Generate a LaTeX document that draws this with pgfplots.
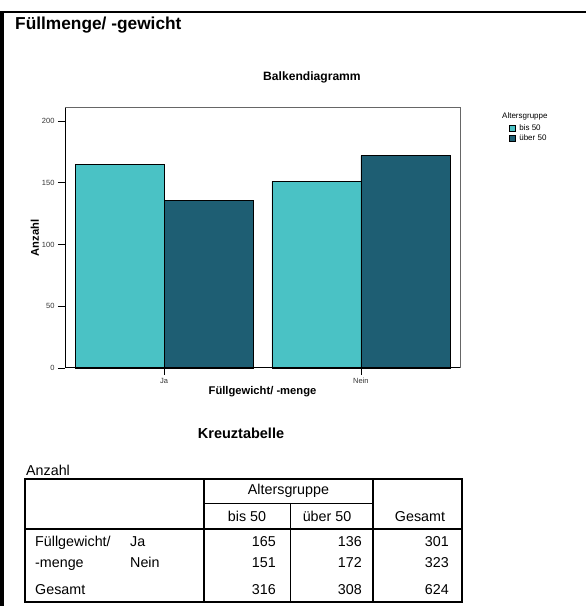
\documentclass[border=0pt]{standalone}
\usepackage{fontspec}
\setmainfont{Liberation Sans}
\usepackage{pgfplots}
\pgfplotsset{compat=1.18}
\definecolor{lightteal}{RGB}{74,194,197}
\definecolor{darkteal}{RGB}{30,94,115}
\begin{document}
\begin{tikzpicture}
\useasboundingbox (0pt,0pt) rectangle (586pt,606pt);
\fill[white] (0pt,0pt) rectangle (586pt,606pt);
% frame
\draw[black, line width=2pt] (0pt,594pt) -- (586pt,594pt);
\draw[black, line width=3.5pt] (1.75pt,0pt) -- (1.75pt,595pt);
\node[anchor=base west, inner sep=0pt, font=\fontsize{17.3}{19}\selectfont\bfseries] at (15pt,576pt) {Füllmenge/ -gewicht};
\node[anchor=base, inner sep=0pt, font=\fontsize{12.1}{13}\selectfont\bfseries] at (312pt,525pt) {Balkendiagramm};

\begin{axis}[
  at={(65pt,238pt)}, anchor=south west,
  scale only axis, width=395pt, height=260pt,
  xmin=-0.503, xmax=1.503, ymin=0, ymax=210.5,
  xtick={0,1}, xticklabels={Ja,Nein},
  ytick={0,50,100,150,200},
  tick align=outside, xtick pos=bottom, ytick pos=left,
  major tick length=7pt,
  tick style={black, line width=0.8pt},
  ticklabel style={font=\fontsize{7.5}{8}\selectfont, text=black!80},
  /pgf/number format/assume math mode=true,
  axis line style={draw=black!60, line width=1pt},
  xlabel={Füllgewicht/ -menge}, ylabel={Anzahl},
  xlabel style={font=\fontsize{11.2}{12}\selectfont\bfseries, at={(axis description cs:0.5,-0.092)}, anchor=center},
  ylabel style={font=\fontsize{11.2}{12}\selectfont\bfseries, at={(axis description cs:-0.076,0.5)}, anchor=center, rotate=0},
  legend style={draw=none, fill=none, at={(axis description cs:1.124,0.94)}, anchor=north west,
    inner sep=0pt, font=\fontsize{8}{8.5}\selectfont, nodes={inner sep=1pt}, row sep=1pt},
  legend cell align=left,
  clip=false,
]
\addplot[ybar, bar width=89pt, bar shift=-44.5pt, fill=lightteal, draw=black, line width=0.7pt,
  legend image code/.code={\draw[fill=lightteal, draw=black, line width=0.6pt] (0pt,-3pt) rectangle (6pt,3pt); \path (8.5pt,0pt);}]
  coordinates {(0,165) (1,151)};
\addlegendentry{bis 50}
\addplot[ybar, bar width=89pt, bar shift=44.5pt, fill=darkteal, draw=black, line width=0.7pt,
  legend image code/.code={\draw[fill=darkteal, draw=black, line width=0.6pt] (0pt,-3pt) rectangle (6pt,3pt); \path (8.5pt,0pt);}]
  coordinates {(0,136) (1,172)};
\addlegendentry{über 50}
\draw[black, line width=1pt] (rel axis cs:0,1) -- (rel axis cs:0,0) -- (rel axis cs:1,0);
\end{axis}
\node[anchor=base west, inner sep=0pt, font=\fontsize{8}{8.5}\selectfont] at (502pt,487.5pt) {Altersgruppe};

% table
\begin{scope}[x=1pt,y=1pt]
\node[anchor=base, inner sep=0pt, font=\fontsize{14.5}{16}\selectfont\bfseries] at (241,167) {Kreuztabelle};
\node[anchor=base west, inner sep=0pt, font=\fontsize{14.3}{16}\selectfont] at (26,130) {Anzahl};
\draw[line width=1.8pt] (25,127) rectangle (462,4);
\draw[line width=1.6pt] (204,127) -- (204,4);
\draw[line width=1.3pt] (373,127) -- (373,4);
\draw[line width=0.9pt] (290,103) -- (290,4);
\draw[line width=0.9pt] (204,103) -- (373,103);
\draw[line width=1.8pt] (25,77) -- (462,77);
\begin{scope}[every node/.style={inner sep=0pt, font=\fontsize{14.3}{16}\selectfont}]
\node[anchor=base] at (288.5,111) {Altersgruppe};
\node[anchor=base] at (247,84) {bis 50};
\node[anchor=base] at (327,84) {über 50};
\node[anchor=base] at (420,84) {Gesamt};
\node[anchor=base west] at (35,59) {Füllgewicht/};
\node[anchor=base west] at (35,38) {-menge};
\node[anchor=base west] at (35,12) {Gesamt};
\node[anchor=base west] at (130,59) {Ja};
\node[anchor=base west] at (130,38) {Nein};
\node[anchor=base east] at (276,59) {165};
\node[anchor=base east] at (362,59) {136};
\node[anchor=base east] at (449,59) {301};
\node[anchor=base east] at (276,38) {151};
\node[anchor=base east] at (362,38) {172};
\node[anchor=base east] at (449,38) {323};
\node[anchor=base east] at (276,12) {316};
\node[anchor=base east] at (362,12) {308};
\node[anchor=base east] at (449,12) {624};
\end{scope}
\end{scope}
\end{tikzpicture}
\end{document}
